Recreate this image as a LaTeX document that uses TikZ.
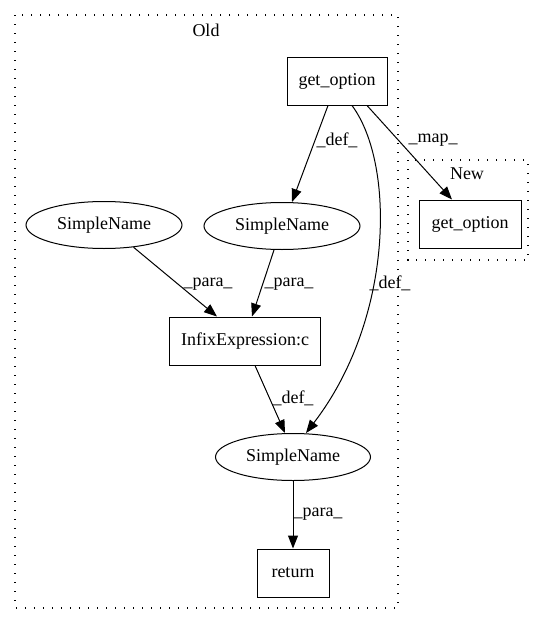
\documentclass[tikz,border=0pt]{standalone}
\usepackage{fontspec}
\setmainfont{Liberation Serif}
\usetikzlibrary{shapes.geometric,arrows.meta}
\begin{document}
\begin{tikzpicture}[x=1pt,y=-1pt,
  every node/.style={font=\fontsize{18}{20}\selectfont},
  boxnode/.style={draw,line width=1pt,rectangle,minimum height=48pt,inner sep=0pt},
  ellnode/.style={draw,line width=1pt,ellipse,minimum width=156pt,minimum height=47pt,inner sep=0pt},
  edge/.style={line width=1pt,-{Triangle[length=13pt,width=10pt]}},
  lab/.style={inner sep=0pt},
  cluster/.style={line width=1.3pt,dash pattern=on 1.4pt off 7.6pt}]
\useasboundingbox (0,0) rectangle (544,624);
% clusters
\draw[cluster] (15,15) rectangle (398,608);
\draw[cluster] (408,160) rectangle (528,260);
\node[lab] (old) at (206,30) {Old};
\node[lab] (newlab) at (467,174) {New};
% nodes
\node[boxnode,minimum width=100pt] (go) at (337,81) {get\_option};
\node[boxnode,minimum width=102pt] (gn) at (470,224) {get\_option};
\node[ellnode] (sn1) at (104,225) {SimpleName};
\node[ellnode] (sn2) at (282,226) {SimpleName};
\node[boxnode,minimum width=151pt] (ix) at (245,341) {InfixExpression:c};
\node[ellnode,minimum width=155pt] (sn3) at (293,457) {SimpleName};
\node[boxnode,minimum width=72pt] (ret) at (293,573) {return};
% edges
\draw[edge] ([xshift=-9pt]go.south) -- ([xshift=10pt]sn2.north);
\draw[edge] ([xshift=30pt]go.south) -- ([xshift=-18pt]gn.north);
\draw[edge] ([xshift=15pt]go.south) .. controls (396,165) and (393,320) .. ([xshift=13pt]sn3.north);
\draw[edge] (sn1.-37) -- ([xshift=-28pt]ix.north);
\draw[edge] ([xshift=-8pt]sn2.south) -- ([xshift=7pt]ix.north);
\draw[edge] ([xshift=10pt]ix.south) -- ([xshift=-8pt]sn3.north);
\draw[edge] (sn3.south) -- (ret.north);
% labels
\node[lab] (l1) at (337,140) {\_def\_};
\node[lab] (l2) at (433,140) {\_map\_};
\node[lab] (l3) at (390,283) {\_def\_};
\node[lab] (l4) at (208,284) {\_para\_};
\node[lab] (l5) at (289,284) {\_para\_};
\node[lab] (l6) at (293,398) {\_def\_};
\node[lab] (l7) at (318,514) {\_para\_};
\end{tikzpicture}
\end{document}
